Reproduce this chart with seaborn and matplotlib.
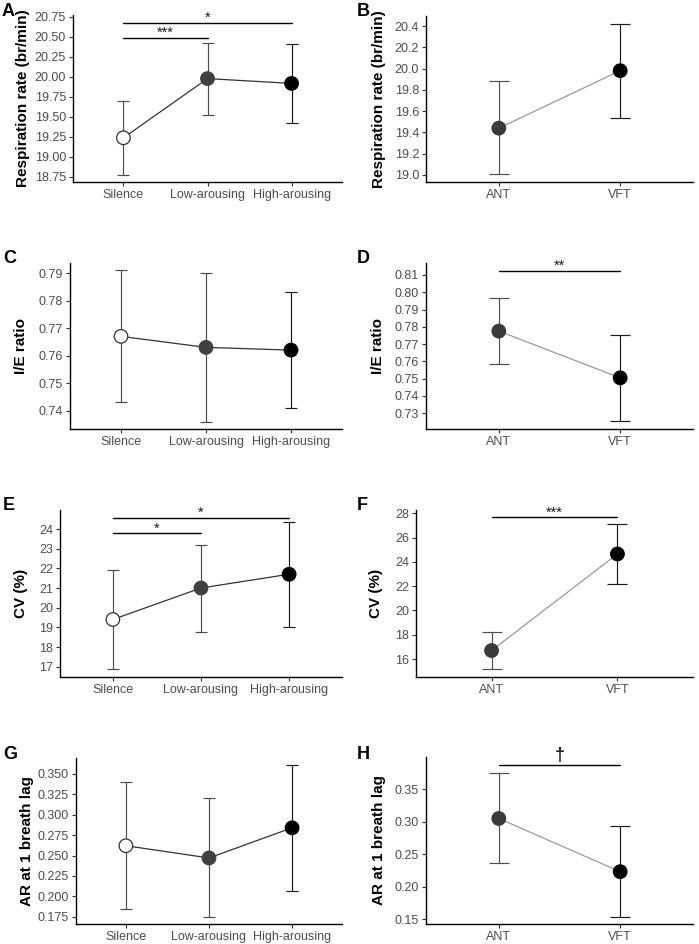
import numpy as np
import pandas as pd
import matplotlib
matplotlib.use("Agg")
import matplotlib.pyplot as plt
import seaborn as sns

sns.set_theme(style="ticks")
plt.rcParams['font.family'] = ['Liberation Sans', 'DejaVu Sans']

# ---------------- data ----------------
music_conditions = ['Silence', 'Low-arousing', 'High-arousing']
task_conditions = ['ANT', 'VFT']

rr_music_mean = [19.24, 19.98, 19.92]
rr_music_lo = [18.78, 19.53, 19.42]
rr_music_hi = [19.70, 20.43, 20.41]
rr_task_mean = [19.44, 19.98]
rr_task_lo = [19.01, 19.54]
rr_task_hi = [19.88, 20.42]

ie_music_mean = [0.767, 0.763, 0.762]
ie_music_lo = [0.743, 0.736, 0.741]
ie_music_hi = [0.791, 0.790, 0.783]
ie_task_mean = [0.7775, 0.7505]
ie_task_lo = [0.7585, 0.7255]
ie_task_hi = [0.7965, 0.7755]

cv_music_mean = [19.4, 21.0, 21.7]
cv_music_lo = [16.9, 18.78, 19.02]
cv_music_hi = [21.9, 23.2, 24.38]
cv_task_mean = [16.7, 24.65]
cv_task_lo = [15.15, 22.2]
cv_task_hi = [18.25, 27.1]

ar_music_mean = [0.262, 0.247, 0.284]
ar_music_lo = [0.185, 0.174, 0.206]
ar_music_hi = [0.340, 0.320, 0.361]
ar_task_mean = [0.305, 0.223]
ar_task_lo = [0.236, 0.153]
ar_task_hi = [0.375, 0.294]

# significance: (from, to, y, label)
sig_A = [('Silence', 'Low-arousing', 20.49, '***'), ('Silence', 'High-arousing', 20.675, '*')]
sig_B = []
sig_C = []
sig_D = [('ANT', 'VFT', 0.8125, '**')]
sig_E = [('Silence', 'Low-arousing', 23.78, '*'), ('Silence', 'High-arousing', 24.57, '*')]
sig_F = [('ANT', 'VFT', 27.67, '***')]
sig_G = []
sig_H = [('ANT', 'VFT', 0.388, '\u2020')]

W, H = 699, 944
fig = plt.figure(figsize=(W / 100, H / 100), dpi=100)

music_fill = ['#ffffff', '#404040', '#000000']
music_edge = ['#333333', '#404040', '#000000']
music_err = ['#4d4d4d', '#4d4d4d', '#1a1a1a']
task_fill = ['#3a3a3a', '#000000']
task_edge = ['#3a3a3a', '#000000']
task_err = ['#4d4d4d', '#1a1a1a']


def make_ax(l, t, r, b):
    return fig.add_axes([l / W, 1 - b / H, (r - l) / W, (b - t) / H])


def panel(box, cats, mean, lo, hi, fills, edges, errc, linecolor, capsize,
          ylim, yticks, fmt, ylabel, sigs, letter, letter_xy, label_x):
    ax = make_ax(*box)
    n = len(cats)
    df = pd.DataFrame({'pos': np.arange(n), 'cond': cats, 'mean': mean,
                       'lo': lo, 'hi': hi})
    sns.lineplot(data=df, x='pos', y='mean', color=linecolor, lw=0.9,
                 ax=ax, sort=False, zorder=2)
    for i in range(n):
        ax.errorbar(df['pos'][i], df['mean'][i],
                    yerr=[[df['mean'][i] - df['lo'][i]], [df['hi'][i] - df['mean'][i]]],
                    fmt='none', ecolor=errc[i], elinewidth=0.85, capsize=capsize,
                    capthick=0.85, zorder=3)
    sns.scatterplot(data=df, x='pos', y='mean', hue='cond', palette=fills,
                    s=95, edgecolor=edges, linewidth=0.9, legend=False,
                    ax=ax, zorder=4)
    for c1, c2, y, lab in sigs:
        x1, x2 = cats.index(c1), cats.index(c2)
        ax.plot([x1, x2], [y, y], color='black', lw=1.0, zorder=5)
        if lab == '\u2020':
            ax.annotate(lab, xy=((x1 + x2) / 2, y), xytext=(0, 0.3),
                        textcoords='offset points', ha='center', va='bottom',
                        fontsize=13, fontweight='bold', color='#1a1a1a')
        else:
            ax.annotate(lab, xy=((x1 + x2) / 2, y), xytext=(0, -1.5),
                        textcoords='offset points', ha='center', va='bottom',
                        fontsize=10.5, color='#1a1a1a')
    ax.set_xlim(-0.6, n - 0.4)
    ax.set_ylim(*ylim)
    ax.set_xticks(np.arange(n), cats)
    ax.set_yticks(yticks, [fmt % v for v in yticks])
    ax.set_xlabel('')
    ax.set_ylabel(ylabel, fontsize=11, fontweight='bold', color='black')
    l, t, r, b = box
    ax.yaxis.set_label_coords((label_x - l) / (r - l), 0.5)
    ax.tick_params(axis='both', labelsize=9, labelcolor='#4d4d4d',
                   color='#333333', length=3, width=0.8, pad=2)
    for s in ['top', 'right']:
        ax.spines[s].set_visible(False)
    for s in ['left', 'bottom']:
        ax.spines[s].set_color('black')
        ax.spines[s].set_linewidth(1.0)
    fig.text(letter_xy[0] / W, 1 - letter_xy[1] / H, letter, fontsize=13,
             fontweight='bold', ha='left', va='top', color='black')
    return ax


panel((73, 15, 342, 182), music_conditions, rr_music_mean, rr_music_lo, rr_music_hi,
      music_fill, music_edge, music_err, '#333333', 4,
      (18.6875, 20.775), np.arange(18.75, 20.76, 0.25), '%.2f',
      'Respiration rate (br/min)', sig_A, 'A', (2, 3), 30)
panel((426, 16, 693, 182), task_conditions, rr_task_mean, rr_task_lo, rr_task_hi,
      task_fill, task_edge, task_err, '#999999', 7,
      (18.934, 20.494), np.arange(19.0, 20.41, 0.2), '%.1f',
      'Respiration rate (br/min)', sig_B, 'B', (357, 3), 386)

panel((70, 263, 342, 429), music_conditions, ie_music_mean, ie_music_lo, ie_music_hi,
      music_fill, music_edge, music_err, '#333333', 4,
      (0.7333, 0.7937), np.arange(0.74, 0.7901, 0.01), '%.2f',
      'I/E ratio', sig_C, 'C', (3, 250), 28)
panel((426, 263, 693, 429), task_conditions, ie_task_mean, ie_task_lo, ie_task_hi,
      task_fill, task_edge, task_err, '#999999', 7,
      (0.7209, 0.8169), np.arange(0.73, 0.8101, 0.01), '%.2f',
      'I/E ratio', sig_D, 'D', (357, 250), 385)

panel((60, 510, 342, 677), music_conditions, cv_music_mean, cv_music_lo, cv_music_hi,
      music_fill, music_edge, music_err, '#333333', 4,
      (16.476, 24.966), np.arange(17, 25, 1), '%d',
      'CV (%)', sig_E, 'E', (3, 497), 28)
panel((416, 510, 693, 677), task_conditions, cv_task_mean, cv_task_lo, cv_task_hi,
      task_fill, task_edge, task_err, '#999999', 7,
      (14.52, 28.27), np.arange(16, 29, 2), '%d',
      'CV (%)', sig_F, 'F', (357, 497), 383)

panel((76, 758, 342, 924), music_conditions, ar_music_mean, ar_music_lo, ar_music_hi,
      music_fill, music_edge, music_err, '#333333', 4,
      (0.166, 0.3696), np.arange(0.175, 0.3501, 0.025), '%.3f',
      'AR at 1 breath lag', sig_G, 'G', (3, 746), 34)
panel((426, 757, 693, 924), task_conditions, ar_task_mean, ar_task_lo, ar_task_hi,
      task_fill, task_edge, task_err, '#999999', 7,
      (0.1423, 0.3998), np.arange(0.15, 0.3501, 0.05), '%.2f',
      'AR at 1 breath lag', sig_H, 'H', (357, 746), 386)

fig.savefig('out.png', dpi=100)
